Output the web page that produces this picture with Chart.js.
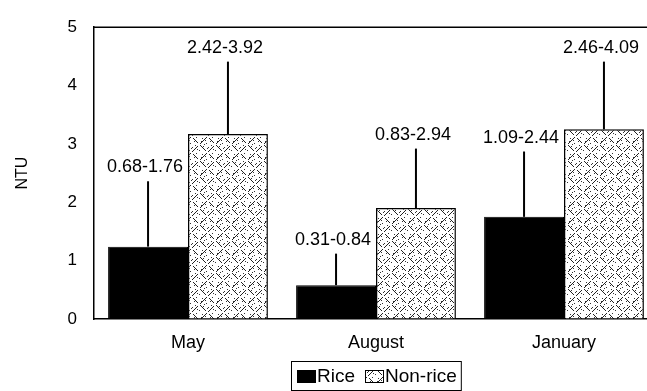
<!DOCTYPE html>
<html>
<head>
<meta charset="utf-8">
<script src="https://cdn.jsdelivr.net/npm/chart.js@4/dist/chart.umd.min.js"></script>
<style>
  html, body { margin: 0; padding: 0; background: #fff; overflow: hidden; }
  #wrap { position: relative; width: 658px; height: 391px; }
</style>
</head>
<body>
<div id="wrap"><canvas id="myChart"></canvas></div>
<script>
// data
const months = ['May', 'August', 'January'];
const riceMeans = [1.24, 0.58, 1.75];
const riceUpper = [2.36, 1.12, 2.87];
const riceRanges = ['0.68-1.76', '0.31-0.84', '1.09-2.44'];
const nonRiceMeans = [3.17, 1.90, 3.25];
const nonRiceUpper = [4.41, 2.92, 4.41];
const nonRiceRanges = ['2.42-3.92', '0.83-2.94', '2.46-4.09'];
const yTicks = [0, 1, 2, 3, 4, 5];

const FONT = "Arial, 'Liberation Sans', sans-serif";

// speckled cross-hatch fill for the non-rice bars
const makePattern = () => {
  const c = document.createElement('canvas');
  c.width = 16;
  c.height = 16;
  const g = c.getContext('2d');
  g.fillStyle = '#fff';
  g.fillRect(0, 0, 16, 16);
  g.strokeStyle = '#222';
  g.lineWidth = 1;
  g.beginPath();
  g.moveTo(0, 8); g.lineTo(6, 2);
  g.moveTo(8, 16); g.lineTo(15, 9);
  g.moveTo(8, 1); g.lineTo(14, 7);
  g.moveTo(1, 10); g.lineTo(6, 15);
  g.stroke();
  g.fillStyle = '#333';
  const dots = [[3, 1], [11, 2], [7, 6], [13, 12], [2, 13], [10, 10], [4, 9], [15, 4], [0, 3], [9, 13], [12, 0], [5, 5], [14, 15]];
  dots.forEach(d => g.fillRect(d[0], d[1], 1, 1));
  return g.createPattern(c, 'repeat');
};

const hatch = makePattern();

const errorBarPlugin = {
  id: 'errorBars',
  afterDatasetsDraw(chart) {
    const ctx = chart.ctx;
    const y = chart.scales.y;
    const uppers = [riceUpper, nonRiceUpper];
    const ranges = [riceRanges, nonRiceRanges];
    ctx.save();
    chart.data.datasets.forEach((ds, i) => {
      const meta = chart.getDatasetMeta(i);
      meta.data.forEach((bar, j) => {
        const top = y.getPixelForValue(uppers[i][j]);
        ctx.strokeStyle = '#000';
        ctx.lineWidth = 2;
        ctx.beginPath();
        ctx.moveTo(bar.x, bar.y);
        ctx.lineTo(bar.x, top);
        ctx.stroke();
        ctx.fillStyle = '#000';
        ctx.font = '18px ' + FONT;
        ctx.textAlign = 'center';
        ctx.textBaseline = 'alphabetic';
        ctx.fillText(ranges[i][j], bar.x - 3, top - 9);
      });
    });
    ctx.restore();
  }
};

const framePlugin = {
  id: 'frame',
  afterDraw(chart) {
    const ctx = chart.ctx;
    const a = chart.chartArea;
    ctx.save();
    ctx.strokeStyle = '#000';
    ctx.lineWidth = 1.5;
    ctx.beginPath();
    ctx.moveTo(a.left, a.top);
    ctx.lineTo(a.right, a.top);
    ctx.lineTo(a.right, a.bottom);
    ctx.stroke();

    // legend with a box round it
    ctx.font = '19px ' + FONT;
    const items = chart.data.datasets.map(ds => ({ label: ds.label, fill: ds.backgroundColor }));
    const sw = 19, sh = 13;
    let w = 6;
    items.forEach((it, k) => {
      w += sw + 1 + ctx.measureText(it.label).width + (k < items.length - 1 ? 10 : 0);
    });
    w += 4;
    const left = Math.round((a.left + a.right) / 2 - w / 2);
    const top = 361;
    const h = 29;
    ctx.lineWidth = 1;
    ctx.strokeRect(left + 0.5, top + 0.5, w, h);
    let x = left + 6;
    items.forEach((it) => {
      ctx.fillStyle = it.fill;
      ctx.fillRect(x, top + 9, sw, sh);
      ctx.strokeStyle = '#000';
      ctx.strokeRect(x + 0.5, top + 9.5, sw - 1, sh - 1);
      x += sw + 1;
      ctx.fillStyle = '#000';
      ctx.textAlign = 'left';
      ctx.textBaseline = 'middle';
      ctx.fillText(it.label, x, top + h / 2 + 1);
      x += ctx.measureText(it.label).width + 10;
    });
    ctx.restore();
  }
};

const createChart = () => {
  const ctx = document.getElementById('myChart');

  const chartData = {
    labels: months,
    datasets: [{
      label: 'Rice',
      data: riceMeans,
      backgroundColor: '#000',
      borderColor: '#000',
      borderWidth: 1,
      barPercentage: 1,
      categoryPercentage: 0.85
    }, {
      label: 'Non-rice',
      data: nonRiceMeans,
      backgroundColor: hatch,
      borderColor: '#000',
      borderWidth: 1.5,
      barPercentage: 1,
      categoryPercentage: 0.85
    }]
  };

  const chartConfig = {
    type: 'bar',
    data: chartData,
    options: {
      responsive: true,
      maintainAspectRatio: false,
      animation: false,
      layout: { padding: { top: 16, left: 0, right: 0, bottom: 0 } },
      plugins: {
        legend: { display: false },
        tooltip: { enabled: false }
      },
      scales: {
        x: {
          grid: { display: true, drawOnChartArea: false, drawTicks: false },
          border: { display: true, color: '#000', width: 1.5 },
          ticks: { color: '#000', font: { family: FONT, size: 18 }, padding: 13 },
          afterFit(scale) { scale.height = 72; }
        },
        y: {
          min: 0,
          max: 5,
          afterBuildTicks(scale) { scale.ticks = yTicks.map(v => ({ value: v })); },
          grid: { display: true, drawOnChartArea: false, drawTicks: false },
          border: { display: true, color: '#000', width: 1.5 },
          ticks: { color: '#000', font: { family: FONT, size: 17 }, padding: 17 },
          title: {
            display: true,
            text: 'NTU',
            color: '#000',
            font: { family: FONT, size: 16 },
            padding: { top: 13, bottom: 0 }
          },
          afterFit(scale) { scale.width = 94; }
        }
      }
    },
    plugins: [errorBarPlugin, framePlugin]
  };

  new Chart(ctx, chartConfig);
};

createChart();
</script>
</body>
</html>
